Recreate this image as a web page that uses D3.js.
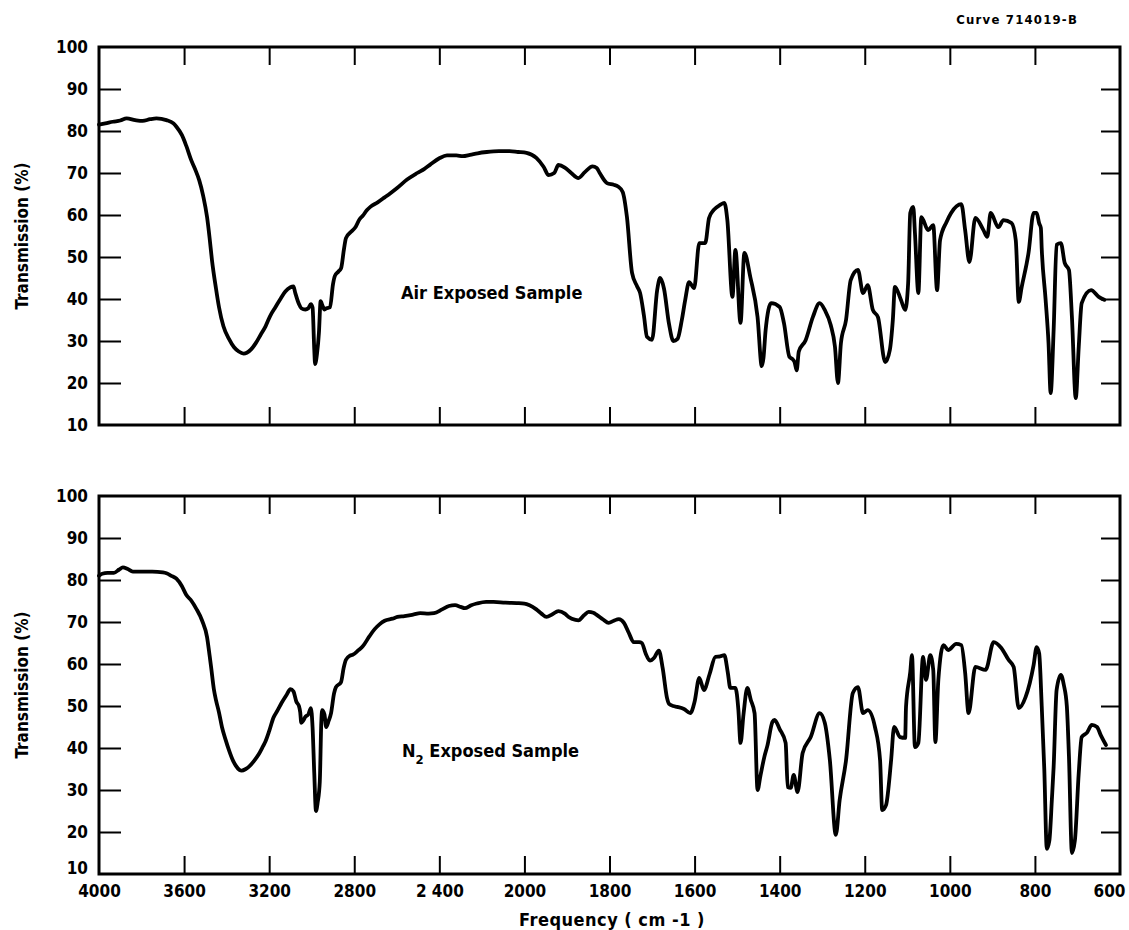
<!DOCTYPE html>
<html>
<head>
<meta charset="utf-8">
<script src="https://cdn.jsdelivr.net/npm/d3@7"></script>
<style>
  html, body { margin: 0; padding: 0; background: #fff; }
  svg { display: block; }
  text { font-family: "DejaVu Sans Condensed", "Liberation Sans Narrow", "DejaVu Sans", sans-serif; font-weight: bold; fill: #000; }
</style>
</head>
<body>
<svg id="chart" width="1129" height="930"></svg>
<script>
// ---------------- DATA ----------------
const chartNote = "Curve 714019-B";
const yTitle = "Transmission (%)";
const xTitle = "Frequency ( cm -1 )";
const panelLabels = ["Air Exposed Sample", "N2 Exposed Sample"];

const xTickValues = [4000, 3600, 3200, 2800, 2400, 2000, 1800, 1600, 1400, 1200, 1000, 800, 600];
const xTickLabels = ["4000", "3600", "3200", "2800", "2 400", "2000", "1800", "1600", "1400", "1200", "1000", "800", "600"];
const yTickValues = [10, 20, 30, 40, 50, 60, 70, 80, 90, 100];

// Air exposed sample (top)
const airFreq = [4000,3970,3935,3900,3870,3830,3795,3760,3730,3683,3650,3636,3610,3590,3566,3545,3529,3510,3492,3480,3469,3450,3436,3415,3389,3365,3343,3320,3305,3285,3263,3240,3217,3195,3170,3145,3124,3100,3086,3077,3060,3049,3030,3016,3004,2996,2988,2984,2975,2966,2958,2950,2940,2930,2914,2900,2891,2875,2862,2848,2839,2815,2793,2775,2760,2740,2723,2690,2657,2630,2597,2550,2504,2470,2443,2400,2364,2320,2290,2256,2220,2177,2120,2070,2030,1995,1972,1955,1943,1930,1920,1905,1890,1873,1858,1840,1830,1823,1806,1790,1780,1769,1759,1747,1735,1728,1719,1712,1700,1688,1681,1672,1660,1650,1640,1630,1622,1613,1601,1589,1575,1566,1555,1540,1530,1523,1511,1504,1492,1483,1469,1452,1442,1438,1433,1420,1400,1390,1377,1370,1365,1360,1355,1339,1322,1306,1294,1280,1270,1263,1256,1244,1233,1216,1204,1193,1181,1169,1152,1141,1134,1129,1115,1105,1098,1093,1086,1082,1074,1067,1051,1039,1030,1023,1008,997,973,964,954,940,921,912,904,886,874,855,845,838,831,815,803,796,790,786,784,775,768,763,756,749,739,730,720,713,704,697,690,668,650,637];
const airT = [81.5,81.8,82.2,82.5,83.0,82.6,82.4,82.8,83.0,82.6,81.8,81.0,79.0,76.5,73.0,70.5,68.3,64.5,59.5,54.5,49.3,42.5,38.1,33.5,30.5,28.5,27.5,27.0,27.2,28.0,29.5,31.5,33.5,36.0,38.1,40.2,41.8,42.8,43.0,41.4,38.8,37.8,37.5,37.8,38.8,38.0,28.0,24.5,27.0,32.0,39.5,38.5,37.5,37.8,38.0,43.5,45.5,46.5,47.3,52.0,54.5,56.0,57.2,59.0,59.8,61.2,62.0,63.0,64.2,65.2,66.5,68.5,70.0,71.0,72.0,73.5,74.2,74.2,74.0,74.3,74.7,75.0,75.2,75.2,75.0,74.8,73.6,71.5,69.5,70.0,71.9,71.3,70.0,68.8,70.2,71.6,71.2,70.0,67.6,67.2,66.8,65.5,59.5,46.2,43.0,41.4,36.0,31.0,30.3,42.1,45.0,42.5,34.0,30.0,30.5,35.0,39.8,44.0,42.6,53.3,53.3,59.3,61.2,62.4,62.9,58.8,40.5,51.7,34.3,51.0,45.2,35.7,24.0,26.0,32.6,39.0,38.1,34.3,26.2,25.7,25.0,23.0,27.5,30.2,35.7,39.0,37.4,33.8,28.6,20.0,29.5,35.0,44.5,46.9,41.4,43.3,37.4,35.7,25.0,27.9,35.0,42.9,39.8,37.4,43.8,60.5,61.9,55.7,41.4,59.5,56.4,57.6,42.1,54.0,58.3,60.5,62.6,56.4,48.8,59.3,56.4,54.8,60.5,57.1,58.8,58.1,54.0,39.3,42.9,51.0,60.5,60.5,58.0,56.9,52.0,40.0,29.5,17.6,32.6,52.9,53.3,48.6,46.9,35.7,16.4,28.6,39.0,42.1,40.5,39.8];

// N2 exposed sample (bottom)
const n2Freq = [4000,3985,3960,3930,3905,3888,3865,3841,3800,3750,3700,3683,3660,3636,3610,3590,3565,3543,3515,3492,3480,3473,3460,3450,3436,3422,3405,3389,3370,3357,3340,3329,3310,3296,3270,3249,3230,3217,3200,3180,3160,3142,3120,3100,3086,3072,3060,3054,3049,3040,3030,3016,3004,2996,2988,2980,2972,2962,2955,2951,2940,2932,2920,2909,2895,2886,2862,2850,2839,2820,2807,2780,2760,2730,2704,2680,2657,2620,2597,2564,2520,2490,2450,2425,2387,2355,2326,2300,2280,2250,2224,2180,2145,2090,2037,2000,1988,1972,1960,1948,1935,1920,1905,1896,1880,1873,1860,1849,1838,1830,1815,1802,1790,1778,1766,1755,1743,1730,1724,1715,1705,1695,1684,1675,1665,1660,1650,1641,1625,1610,1600,1589,1578,1565,1551,1540,1530,1522,1516,1504,1497,1492,1485,1476,1468,1459,1452,1445,1436,1429,1417,1412,1400,1386,1381,1374,1367,1358,1346,1327,1306,1294,1282,1268,1259,1244,1228,1216,1204,1193,1176,1164,1159,1150,1138,1131,1117,1105,1103,1093,1089,1082,1074,1063,1056,1046,1039,1034,1027,1015,1004,985,973,964,956,940,916,897,879,862,850,838,822,803,796,790,784,778,772,766,760,756,749,739,732,725,720,713,706,697,690,678,666,654,645,633];
const n2T = [81.0,81.5,81.7,81.7,82.5,83.0,82.6,82.0,82.0,82.0,81.8,81.6,81.0,80.3,78.5,76.5,75.0,73.2,70.3,66.4,62.0,59.3,54.0,51.4,48.5,45.0,42.0,39.5,37.0,35.8,34.8,34.6,35.0,35.5,37.0,38.5,40.3,41.6,44.0,47.2,49.0,50.7,52.5,54.0,53.5,51.0,50.0,48.5,46.0,46.5,47.4,48.0,49.5,45.0,34.0,25.0,27.0,32.0,46.0,49.0,48.0,45.0,46.5,48.3,53.0,54.5,55.7,59.0,61.0,62.0,62.2,63.3,64.2,66.5,68.3,69.5,70.3,70.8,71.2,71.4,71.8,72.1,72.0,72.1,73.0,73.8,74.0,73.6,73.3,74.0,74.4,74.8,74.8,74.6,74.5,74.4,74.0,73.0,72.0,71.2,71.8,72.6,72.0,71.2,70.5,70.4,71.6,72.4,72.2,71.7,70.6,69.8,70.3,70.7,69.8,67.5,65.2,65.2,65.0,62.5,60.8,61.5,63.2,59.0,52.0,50.5,50.0,49.8,49.3,48.3,51.0,56.7,53.8,57.5,61.7,61.8,62.1,58.0,54.3,54.3,49.0,41.2,48.0,54.3,51.5,48.3,30.0,33.5,37.9,40.5,46.2,46.7,44.5,41.2,30.7,30.5,33.6,29.5,38.8,42.6,48.3,46.0,37.1,19.3,27.6,37.1,53.1,54.5,48.3,49.0,45.0,37.1,25.2,26.4,37.1,45.0,42.6,42.4,49.8,58.1,62.1,40.2,41.2,61.7,56.2,62.1,58.6,41.4,56.2,64.5,63.3,64.8,64.5,57.9,48.3,59.3,58.6,65.2,63.8,61.0,59.3,49.5,52.1,59.8,64.0,62.5,50.0,35.0,16.0,18.0,28.0,35.5,53.8,57.4,55.0,50.0,38.0,15.0,18.0,34.0,42.6,43.6,45.5,45.0,43.0,40.7];

// ---------------- LAYOUT ----------------
const svg = d3.select("#chart");
const left = 99, right = 1120;
const panels = [
  { top: 47, bottom: 425, freq: airFreq, T: airT, label: panelLabels[0], labelX: 401, labelY: 299, showX: false },
  { top: 496, bottom: 874, freq: n2Freq, T: n2T, label: panelLabels[1], labelX: 402, labelY: 757, showX: true }
];

// wavenumber scale changes at 2000 cm-1 (400 per division above, 200 per division below)
const x = d3.scaleLinear().domain([4000, 2000, 600]).range([left, left + (right - left) * 5 / 12, right]);

svg.append("text")
  .attr("x", 1078).attr("y", 24)
  .attr("text-anchor", "end")
  .style("font-size", "13px")
  .style("letter-spacing", "1.2px")
  .text(chartNote);

panels.forEach((p, i) => {
  const g = svg.append("g");
  const y = d3.scaleLinear().domain([10, 100]).range([p.bottom, p.top]);
  const h = p.bottom - p.top;

  // left axis (ticks point inward)
  const yl = g.append("g").attr("transform", `translate(${left},0)`)
    .call(d3.axisLeft(y).tickValues(yTickValues).tickSize(-22).tickPadding(11).tickFormat(d3.format("d")));
  yl.selectAll(".tick line").filter(d => d === 10 || d === 100).remove();
  if (p.showX) yl.selectAll(".tick text").filter(d => d === 10).attr("dy", "-0.05em");
  // right axis (ticks inward, no labels)
  g.append("g").attr("transform", `translate(${right},0)`)
    .call(d3.axisRight(y).tickValues(yTickValues.filter(d => d > 10 && d < 100)).tickSize(-19).tickFormat(""));
  // top axis
  g.append("g").attr("transform", `translate(0,${p.top})`)
    .call(d3.axisTop(x).tickValues(xTickValues.slice(1, -1)).tickSize(-18).tickFormat(""));
  // bottom axis
  const xb = g.append("g").attr("transform", `translate(0,${p.bottom})`)
    .call(d3.axisBottom(x).tickValues(p.showX ? xTickValues : xTickValues.slice(1, -1))
      .tickSize(-18).tickPadding(10)
      .tickFormat(p.showX ? (d => xTickLabels[xTickValues.indexOf(d)]) : ""));
  xb.selectAll(".tick line").filter(d => d === 4000 || d === 600).remove();
  xb.selectAll(".tick text").filter(d => d === 600).attr("dx", -11);
  xb.selectAll(".tick text").attr("dy", "0.78em");

  g.selectAll(".domain").remove();
  g.selectAll(".tick line").attr("stroke", "#000").attr("stroke-width", 2);
  g.selectAll(".tick text").style("font-size", "17px").attr("fill", "#000");

  // frame
  g.append("rect")
    .attr("x", left).attr("y", p.top)
    .attr("width", right - left).attr("height", h)
    .attr("fill", "none").attr("stroke", "#000").attr("stroke-width", 3);

  // y title
  g.append("text")
    .attr("transform", `translate(22,${(p.top + p.bottom) / 2}) rotate(-90)`)
    .attr("text-anchor", "middle")
    .attr("dominant-baseline", "central")
    .style("font-size", "17px")
    .text(yTitle);

  // spectrum
  const pts = p.freq.map((f, k) => [f, p.T[k]]);
  const line = d3.line().x(d => x(d[0])).y(d => y(d[1])).curve(d3.curveMonotoneX);
  g.append("path")
    .datum(pts)
    .attr("d", line)
    .attr("fill", "none")
    .attr("stroke", "#000")
    .attr("stroke-width", 3.8)
    .attr("stroke-linejoin", "round")
    .attr("stroke-linecap", "round");

  // panel label
  const t = g.append("text").attr("x", p.labelX).attr("y", p.labelY).style("font-size", "18px");
  if (i === 0) {
    t.text(p.label);
  } else {
    t.append("tspan").text("N");
    t.append("tspan").attr("dy", 7).style("font-size", "13px").text("2");
    t.append("tspan").attr("dy", -7).text(" Exposed Sample");
  }
});

svg.append("text")
  .attr("x", 612).attr("y", 926)
  .attr("text-anchor", "middle")
  .style("font-size", "18px")
  .style("letter-spacing", "0.5px")
  .text(xTitle);
</script>
</body>
</html>
